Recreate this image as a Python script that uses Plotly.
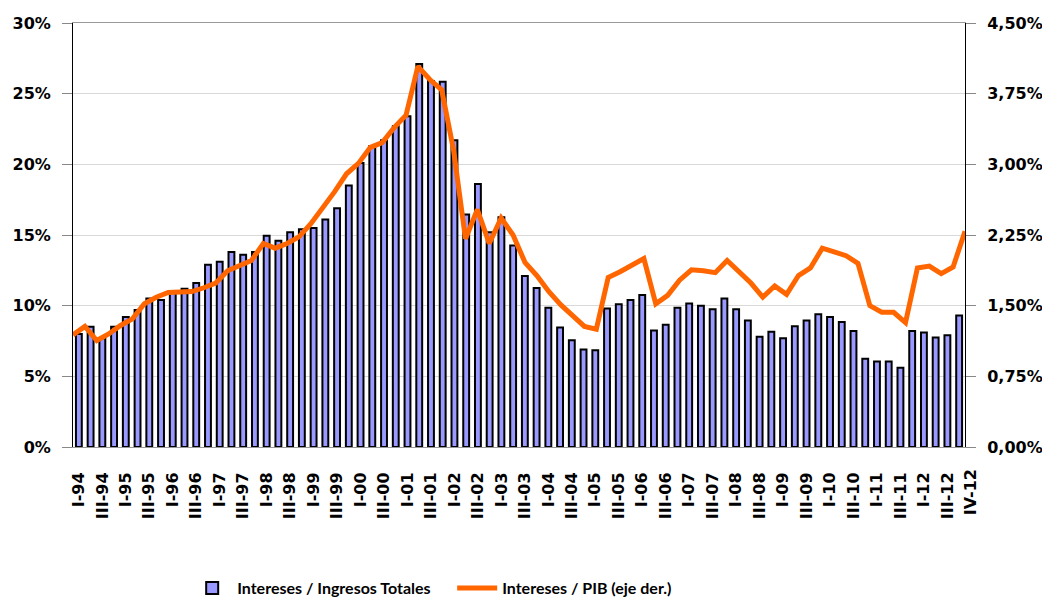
import plotly.graph_objects as go

roman = ["I", "II", "III", "IV"]
years = ["94", "95", "96", "97", "98", "99", "00", "01", "02", "03",
         "04", "05", "06", "07", "08", "09", "10", "11", "12"]
quarters = [f"{r}-{y}" for y in years for r in roman]

# Intereses / Ingresos Totales (%)
intereses_ingresos = [
    8.0, 8.5, 7.7, 8.5, 9.2, 9.7, 10.5, 10.4, 10.9, 11.2, 11.6, 12.9,
    13.1, 13.8, 13.6, 13.8, 14.95, 14.6, 15.2, 15.4, 15.5, 16.1, 16.9, 18.5,
    20.1, 21.3, 21.7, 22.7, 23.4, 27.1, 25.9, 25.85, 21.7, 16.45, 18.6, 15.2,
    16.25, 14.25, 12.1, 11.25, 9.85, 8.45, 7.55, 6.9, 6.85, 9.8, 10.1, 10.4,
    10.75, 8.25, 8.65, 9.85, 10.15, 10.0, 9.75, 10.5, 9.75, 8.95, 7.8, 8.15,
    7.7, 8.55, 8.95, 9.4, 9.2, 8.85, 8.2, 6.25, 6.05, 6.05, 5.6, 8.2,
    8.1, 7.75, 7.9, 9.3,
]

# Intereses / PIB (%), eje derecho
intereses_pib = [
    1.19, 1.28, 1.13, 1.20, 1.29, 1.36, 1.52, 1.59, 1.64, 1.64, 1.65, 1.69,
    1.74, 1.87, 1.93, 1.98, 2.16, 2.11, 2.16, 2.23, 2.37, 2.53, 2.71, 2.90,
    3.01, 3.18, 3.23, 3.39, 3.52, 4.04, 3.90, 3.79, 3.15, 2.21, 2.52, 2.16,
    2.43, 2.25, 1.96, 1.82, 1.65, 1.51, 1.39, 1.28, 1.25, 1.80, 1.86, 1.93,
    2.00, 1.52, 1.61, 1.77, 1.88, 1.87, 1.85, 1.98, 1.86, 1.74, 1.59, 1.71,
    1.62, 1.82, 1.90, 2.11, 2.07, 2.03, 1.95, 1.50, 1.43, 1.43, 1.32, 1.90,
    1.92, 1.84, 1.91, 2.29,
]

left_ticks = [0, 5, 10, 15, 20, 25, 30]
left_text = ["0%", "5%", "10%", "15%", "20%", "25%", "30%"]
right_ticks = [0, 0.75, 1.5, 2.25, 3.0, 3.75, 4.5]
right_text = ["0,00%", "0,75%", "1,50%", "2,25%", "3,00%", "3,75%", "4,50%"]

x_tick_labels = quarters[::2]
last_label = quarters[-1]

BAR_NAME = "Intereses / Ingresos Totales"
LINE_NAME = "Intereses / PIB (eje der.)"

fig = go.Figure()
fig.add_trace(go.Bar(
    x=quarters, y=intereses_ingresos, name=BAR_NAME,
    marker=dict(color="#9999FF", line=dict(color="#000000", width=2)),
    xaxis="x", yaxis="y",
))
fig.add_trace(go.Scatter(
    x=quarters, y=intereses_pib, name=LINE_NAME, mode="lines",
    line=dict(color="#FF6600", width=5),
    xaxis="x2", yaxis="y2",
))

tickfont = dict(family="DejaVu Sans", size=16, color="#000000", weight="bold")

fig.add_annotation(
    x=last_label, xref="x", y=0, yref="paper", yanchor="top",
    text=last_label, textangle=-90, showarrow=False,
    xshift=11, yshift=-20, font=tickfont,
)

# the page body adds an 8px offset, so the figure is 8px smaller than the window
fig.update_layout(
    width=1042, height=594,
    margin=dict(l=65, r=85, t=15, b=155, autoexpand=False),
    paper_bgcolor="white", plot_bgcolor="white",
    bargap=0.5,
    showlegend=True,
    legend=dict(
        orientation="h", x=0.128, xanchor="left", y=-0.333, yanchor="middle",
        font=dict(family="Lato", size=16, color="#000000", weight="bold"),
        itemwidth=40, tracegroupgap=0,
        entrywidth=210, entrywidthmode="pixels",
    ),
    xaxis=dict(
        type="category", categoryorder="array", categoryarray=quarters,
        range=[-0.5, len(quarters) - 0.5], automargin=False,
        tickmode="array", tickvals=x_tick_labels, ticktext=x_tick_labels,
        tickangle=-90, tickfont=tickfont, ticks="", ticklabelstandoff=18,
        showline=True, mirror=True, linecolor="#999999", linewidth=1,
        showgrid=False, zeroline=False,
    ),
    xaxis2=dict(
        type="category", categoryorder="array", categoryarray=quarters,
        overlaying="x", range=[0, len(quarters) - 1], visible=False,
    ),
    yaxis=dict(
        range=[0, 30], tickmode="array", tickvals=left_ticks, ticktext=left_text,
        tickfont=tickfont, ticks="outside", ticklen=10, tickcolor="#888888",
        showline=True, linecolor="#000000", linewidth=1, automargin=False,
        showgrid=True, gridcolor="#d9d9d9", gridwidth=1, zeroline=False,
        ticklabelstandoff=8,
    ),
    yaxis2=dict(
        range=[0, 4.5], overlaying="y", side="right", automargin=False,
        tickmode="array", tickvals=right_ticks, ticktext=right_text,
        tickfont=tickfont, ticks="outside", ticklen=10, tickcolor="#888888",
        showline=True, linecolor="#000000", linewidth=1,
        showgrid=False, zeroline=False, ticklabelstandoff=8,
    ),
)

fig.write_html("out.html")
